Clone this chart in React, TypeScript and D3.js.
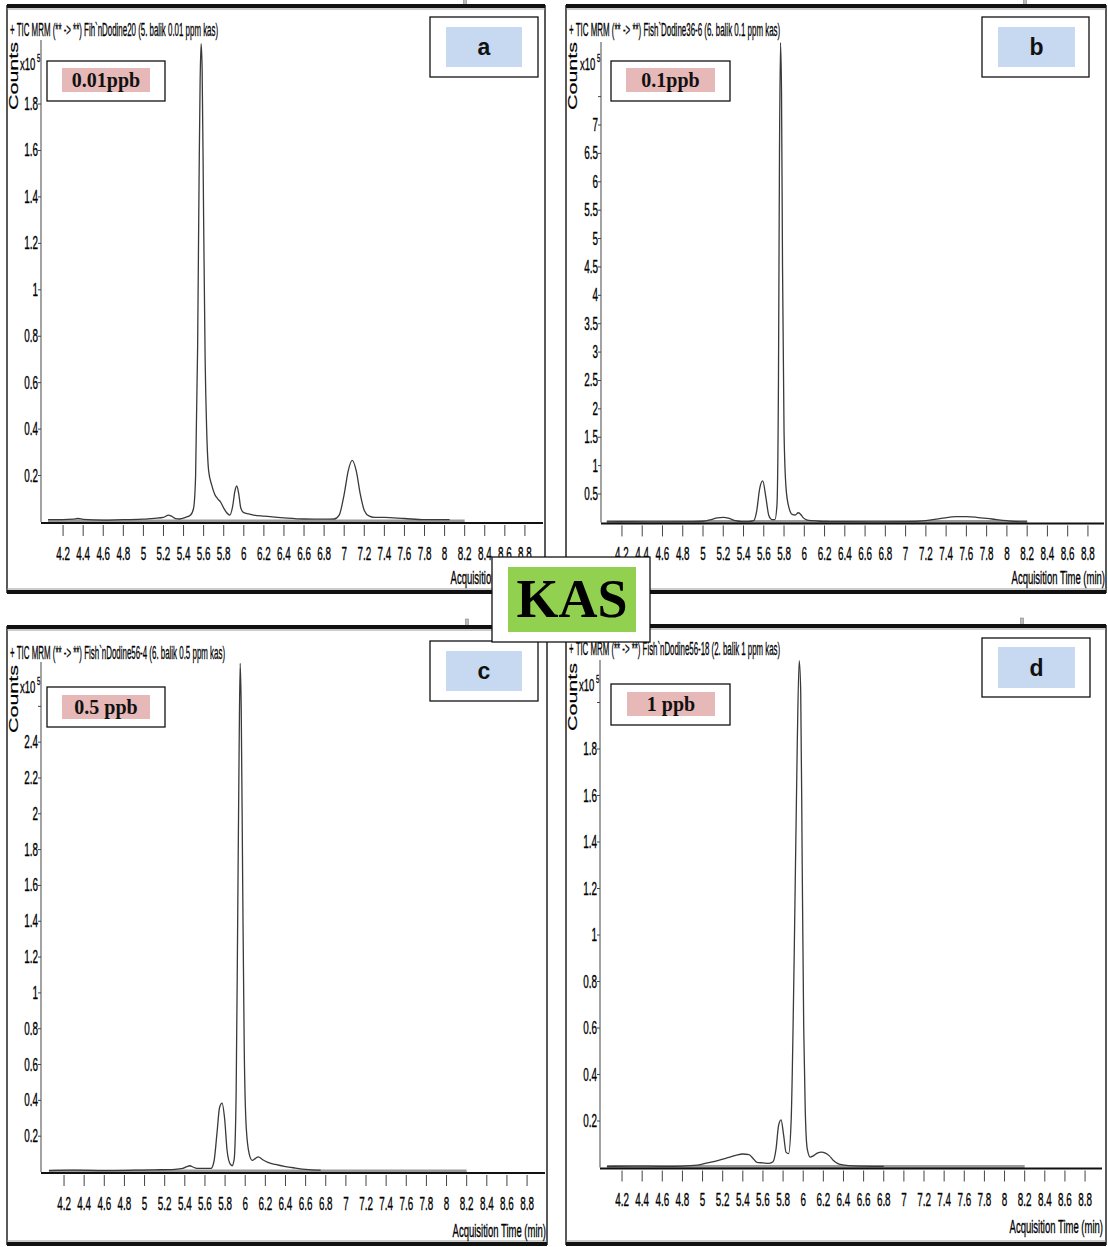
import React, { useLayoutEffect, useRef, useState } from "react";
import * as d3 from "d3";

// ---------- DATA ----------
const xTickValues = [4.2, 4.4, 4.6, 4.8, 5, 5.2, 5.4, 5.6, 5.8, 6, 6.2, 6.4, 6.6, 6.8, 7, 7.2, 7.4, 7.6, 7.8, 8, 8.2, 8.4, 8.6, 8.8];
const xTickLabels = ["4.2", "4.4", "4.6", "4.8", "5", "5.2", "5.4", "5.6", "5.8", "6", "6.2", "6.4", "6.6", "6.8", "7", "7.2", "7.4", "7.6", "7.8", "8", "8.2", "8.4", "8.6", "8.8"];

const yTicksA = [0.2, 0.4, 0.6, 0.8, 1, 1.2, 1.4, 1.6, 1.8];
const yLabelsA = ["0.2", "0.4", "0.6", "0.8", "1", "1.2", "1.4", "1.6", "1.8"];
const yTicksB = [0.5, 1, 1.5, 2, 2.5, 3, 3.5, 4, 4.5, 5, 5.5, 6, 6.5, 7, 7.5];
const yLabelsB = ["0.5", "1", "1.5", "2", "2.5", "3", "3.5", "4", "4.5", "5", "5.5", "6", "6.5", "7", ""];
const yTicksC = [0.2, 0.4, 0.6, 0.8, 1, 1.2, 1.4, 1.6, 1.8, 2, 2.2, 2.4, 2.6];
const yLabelsC = ["0.2", "0.4", "0.6", "0.8", "1", "1.2", "1.4", "1.6", "1.8", "2", "2.2", "2.4", ""];
const yTicksD = [0.2, 0.4, 0.6, 0.8, 1, 1.2, 1.4, 1.6, 1.8, 2];
const yLabelsD = ["0.2", "0.4", "0.6", "0.8", "1", "1.2", "1.4", "1.6", "1.8", ""];

// acquisition time (min) and counts (x10^5)
const timesA = [4.05, 4.2, 4.3, 4.35, 4.4, 4.6, 4.8, 5.0, 5.1, 5.2, 5.25, 5.28, 5.32, 5.36, 5.42, 5.47, 5.5, 5.52, 5.54, 5.555, 5.565, 5.575, 5.585, 5.6, 5.615, 5.63, 5.65, 5.68, 5.71, 5.74, 5.77, 5.8, 5.83, 5.86, 5.89, 5.91, 5.93, 5.95, 5.97, 6.0, 6.05, 6.1, 6.2, 6.4, 6.6, 6.8, 6.9, 6.95, 7.0, 7.04, 7.08, 7.12, 7.16, 7.2, 7.25, 7.3, 7.4, 7.6, 7.8, 8.0, 8.05];
const countsA = [0.01, 0.01, 0.012, 0.015, 0.011, 0.008, 0.01, 0.012, 0.016, 0.02, 0.03, 0.025, 0.015, 0.013, 0.02, 0.03, 0.06, 0.2, 0.75, 1.5, 1.9, 2.06, 1.95, 1.3, 0.7, 0.4, 0.22, 0.16, 0.12, 0.1, 0.085, 0.06, 0.04, 0.03, 0.07, 0.13, 0.155, 0.12, 0.06, 0.04, 0.035, 0.03, 0.025, 0.018, 0.013, 0.012, 0.013, 0.03, 0.12, 0.22, 0.265, 0.22, 0.12, 0.05, 0.025, 0.02, 0.02, 0.015, 0.01, 0.01, 0.01];

const timesB = [4.05, 4.3, 4.6, 4.9, 5.0, 5.08, 5.14, 5.2, 5.26, 5.32, 5.38, 5.45, 5.5, 5.53, 5.56, 5.59, 5.62, 5.65, 5.68, 5.71, 5.73, 5.745, 5.755, 5.765, 5.775, 5.785, 5.8, 5.82, 5.85, 5.88, 5.91, 5.94, 5.96, 5.99, 6.03, 6.08, 6.15, 6.25, 6.4, 6.7, 7.0, 7.2, 7.35, 7.5, 7.6, 7.7, 7.85, 8.0, 8.1, 8.2];
const countsB = [0.01, 0.012, 0.01, 0.012, 0.02, 0.05, 0.08, 0.09, 0.07, 0.03, 0.015, 0.015, 0.03, 0.2, 0.6, 0.73, 0.45, 0.12, 0.05, 0.05, 0.3, 2.5, 6.5, 8.45, 7.6, 4.5, 1.6, 0.6, 0.25, 0.14, 0.13, 0.17, 0.15, 0.08, 0.04, 0.03, 0.02, 0.015, 0.012, 0.01, 0.012, 0.03, 0.07, 0.1, 0.1, 0.09, 0.06, 0.03, 0.015, 0.01];

const timesC = [4.05, 4.3, 4.6, 4.9, 5.1, 5.3, 5.38, 5.42, 5.45, 5.48, 5.52, 5.6, 5.66, 5.69, 5.72, 5.745, 5.77, 5.795, 5.82, 5.85, 5.87, 5.89, 5.91, 5.925, 5.94, 5.95, 5.96, 5.975, 5.99, 6.01, 6.04, 6.07, 6.1, 6.13, 6.17, 6.22, 6.3, 6.4, 6.5, 6.6, 6.75];
const countsC = [0.008, 0.01, 0.008, 0.01, 0.012, 0.015, 0.02, 0.03, 0.035, 0.028, 0.02, 0.02, 0.02, 0.06, 0.22, 0.36, 0.385, 0.3, 0.12, 0.045, 0.035, 0.07, 0.45, 1.4, 2.4, 2.84, 2.6, 1.6, 0.7, 0.25, 0.1, 0.065, 0.075, 0.085, 0.07, 0.055, 0.042, 0.03, 0.022, 0.015, 0.01];

const timesD = [4.05, 4.3, 4.6, 4.8, 4.95, 5.05, 5.15, 5.25, 5.33, 5.4, 5.46, 5.5, 5.54, 5.6, 5.66, 5.7, 5.73, 5.755, 5.78, 5.805, 5.83, 5.855, 5.88, 5.91, 5.94, 5.96, 5.975, 5.99, 6.005, 6.02, 6.04, 6.07, 6.1, 6.14, 6.18, 6.22, 6.26, 6.3, 6.34, 6.38, 6.45, 6.6, 6.8];
const countsD = [0.005, 0.006, 0.005, 0.006, 0.01, 0.02, 0.03, 0.042, 0.052, 0.058, 0.055, 0.04, 0.022, 0.02, 0.018, 0.025, 0.08, 0.18, 0.205, 0.14, 0.065, 0.06, 0.2, 0.9, 1.8, 2.18, 2.05, 1.3, 0.6, 0.25, 0.08, 0.045, 0.05, 0.062, 0.066, 0.062, 0.05, 0.03, 0.018, 0.012, 0.008, 0.006, 0.005];

const headers = [
  "+ TIC MRM (** -> **) Fih`nDodine20 (5. balik 0.01 ppm kas)",
  "+ TIC MRM (** -> **) Fish`Dodine36-6 (6. balik 0.1 ppm kas)",
  "+ TIC MRM (** -> **) Fish`nDodine56-4 (6. balik 0.5 ppm kas)",
  "+ TIC MRM (** -> **) Fish`nDodine56-18 (2. balik 1 ppm kas)",
];
const concLabels = ["0.01ppb", "0.1ppb", "0.5 ppb", "1 ppb"];
const panelLetters = ["a", "b", "c", "d"];
const xAxisTitle = "Acquisition Time (min)";
const yAxisTitle = "Counts";
const centerLabel = "KAS";

// ---------- LAYOUT ----------
const NARROW = "'Liberation Sans', Arial, sans-serif";

const layouts = [
  { frame: [7, 5, 545, 593], axisX: 41, axisRight: 543, axisTop: 40, xr: [43, 545], y0: 522, k: 232.2, hx: 10, hy: 36, hl: 208, conc: [47, 61, 118, 40], concF: [62, 68, 88, 24], let: [430, 17, 108, 60], letF: [446, 27, 76, 40], xlY: 584, mark: 465, ylY: 70 },
  { frame: [566, 5, 1106, 593], axisX: 601, axisRight: 1104, axisTop: 42, xr: [601.7, 1108.2], y0: 522.4, k: 56.77, hx: 569, hy: 36, hl: 211, conc: [611, 61, 119, 40], concF: [626, 68, 89, 24], let: [982, 17, 107, 60], letF: [998, 27, 77, 40], xlY: 584, mark: 1025, ylY: 70 },
  { frame: [7, 626, 547, 1245], axisX: 41, axisRight: 545, axisTop: 662, xr: [43.9, 547.2], y0: 1172, k: 179.1, hx: 10, hy: 659, hl: 215, conc: [47, 687, 118, 40], concF: [62, 695, 88, 24], let: [430, 641, 108, 60], letF: [446, 651, 76, 40], xlY: 1237, mark: 467, ylY: 693 },
  { frame: [566, 625, 1106, 1245], axisX: 600, axisRight: 1102, axisTop: 660, xr: [601.9, 1105.2], y0: 1167.5, k: 232.5, hx: 569, hy: 655, hl: 211, conc: [611, 684, 119, 41], concF: [627, 692, 88, 24], let: [982, 638, 108, 59], letF: [998, 647, 77, 41], xlY: 1233, mark: 1022, ylY: 691 },
];

const seriesTimes = [timesA, timesB, timesC, timesD];
const seriesCounts = [countsA, countsB, countsC, countsD];
const yTickSets = [yTicksA, yTicksB, yTicksC, yTicksD];
const yLabelSets = [yLabelsA, yLabelsB, yLabelsC, yLabelsD];

function Narrow({ x, y, sx = 0.56, size = 17, anchor = "middle", children, fill = "#000" }: any) {
  return (
    <text transform={`translate(${x},${y}) scale(${sx},1)`} textAnchor={anchor} fontFamily={NARROW} fontSize={size} fill={fill} stroke={fill} strokeWidth={0.35}>
      {children}
    </text>
  );
}

// text squeezed horizontally to a given length (measured, then scaled)
function FitText({ x, y, width, size, rotate = 0, anchor = "start", children, stroke = 0.3 }: any) {
  const ref = useRef<SVGTextElement>(null);
  const [s, setS] = useState(0.45);
  useLayoutEffect(() => {
    if (ref.current) {
      const w = ref.current.getComputedTextLength();
      if (w > 0) setS(width / w);
    }
  }, [width, children]);
  return (
    <text
      ref={ref}
      transform={`translate(${x},${y}) rotate(${rotate}) scale(${s},1)`}
      textAnchor={anchor}
      fontFamily={NARROW}
      fontSize={size}
      fill="#000"
      stroke="#000"
      strokeWidth={stroke}
    >
      {children}
    </text>
  );
}

function Panel({ i }: { i: number }) {
  const L = layouts[i];
  const [fx1, fy1, fx2, fy2] = L.frame;
  const x = d3.scaleLinear().domain([4, 9]).range(L.xr);
  const y = d3.scaleLinear().domain([0, 1]).range([L.y0, L.y0 - L.k]);
  const pts: [number, number][] = seriesTimes[i].map((t, j) => [t, seriesCounts[i][j]]);
  const line = d3.line<[number, number]>().x((d) => x(d[0])).y((d) => y(d[1])).curve(d3.curveMonotoneX);
  const tEnd = seriesTimes[i][seriesTimes[i].length - 1];
  return (
    <g>
      {/* small mark above frame */}
      <rect x={L.mark - 1.5} y={fy1 - 7} width={3} height={7} fill="#bbb" stroke="#888" strokeWidth={0.6} />
      {/* frame */}
      <line x1={fx1} y1={fy1} x2={fx1} y2={fy2} stroke="#222" strokeWidth={1.5} />
      <line x1={fx2} y1={fy1} x2={fx2} y2={fy2} stroke="#222" strokeWidth={1.5} />
      <line x1={fx1} y1={fy1 + 1} x2={fx2} y2={fy1 + 1} stroke="#111" strokeWidth={4} />
      <line x1={fx1} y1={fy1 + 4} x2={fx2} y2={fy1 + 4} stroke="#999" strokeWidth={1} />
      <line x1={fx1} y1={fy2 - 1} x2={fx2} y2={fy2 - 1} stroke="#111" strokeWidth={4} />
      <line x1={fx1} y1={fy2 - 4} x2={fx2} y2={fy2 - 4} stroke="#999" strokeWidth={1} />

      {/* header */}
      <FitText x={L.hx} y={L.hy} width={L.hl} size={18}>
        {headers[i]}
      </FitText>

      {/* y title */}
      <FitText x={fx1 + 11} y={L.ylY + 40} width={68} size={13} rotate={-90} stroke={0.2}>
        {yAxisTitle}
      </FitText>
      <Narrow x={L.axisX - 21} y={L.ylY} anchor="start" size={17}>x10</Narrow>
      <Narrow x={L.axisX - 4} y={L.ylY - 8} anchor="start" size={11}>5</Narrow>

      {/* y axis */}
      <line x1={L.axisX} y1={L.axisTop} x2={L.axisX} y2={L.y0} stroke="#666" strokeWidth={1.2} />
      {yTickSets[i].map((v, j) => (
        <g key={j}>
          <line x1={L.axisX - 3} x2={L.axisX} y1={y(v)} y2={y(v)} stroke="#444" strokeWidth={1} />
          {yLabelSets[i][j] && (
            <Narrow x={L.axisX - 3} y={y(v) + 6} anchor="end" size={18} sx={0.55}>
              {yLabelSets[i][j]}
            </Narrow>
          )}
        </g>
      ))}

      {/* baseline band & x axis */}
      <line x1={x(4.05)} x2={x(Math.max(tEnd, 8.2))} y1={L.y0 - 1} y2={L.y0 - 1} stroke="#9a9a9a" strokeWidth={3} />
      <line x1={L.axisX} x2={L.axisRight} y1={L.y0 + 1} y2={L.y0 + 1} stroke="#111" strokeWidth={2} />
      {xTickValues.map((v, j) => (
        <g key={j}>
          <line x1={x(v)} x2={x(v)} y1={L.y0 + 3} y2={L.y0 + 14} stroke="#444" strokeWidth={1} />
          <Narrow x={x(v)} y={L.y0 + 38} size={19} sx={0.52}>
            {xTickLabels[j]}
          </Narrow>
        </g>
      ))}
      <Narrow x={L.axisRight + 1} y={L.xlY} anchor="end" sx={0.5} size={19}>
        {xAxisTitle}
      </Narrow>

      {/* trace */}
      <path d={line(pts) || ""} fill="none" stroke="#3a3a3a" strokeWidth={1.3} strokeLinejoin="round" />

      {/* concentration label */}
      <rect x={L.conc[0]} y={L.conc[1]} width={L.conc[2]} height={L.conc[3]} fill="#fff" stroke="#111" strokeWidth={1.3} />
      <rect x={L.concF[0]} y={L.concF[1]} width={L.concF[2]} height={L.concF[3]} fill="#e6b8b7" />
      <text x={L.concF[0] + L.concF[2] / 2} y={L.concF[1] + L.concF[3] / 2 + 7} textAnchor="middle" fontFamily="'Liberation Serif', 'Times New Roman', serif" fontWeight="bold" fontSize={20} fill="#111">
        {concLabels[i]}
      </text>

      {/* panel letter */}
      <rect x={L.let[0]} y={L.let[1]} width={L.let[2]} height={L.let[3]} fill="#fff" stroke="#111" strokeWidth={1.3} />
      <rect x={L.letF[0]} y={L.letF[1]} width={L.letF[2]} height={L.letF[3]} fill="#c6d9f0" />
      <text x={L.letF[0] + L.letF[2] / 2} y={L.letF[1] + L.letF[3] / 2 + 8} textAnchor="middle" fontFamily="'Liberation Sans', Arial, sans-serif" fontWeight="bold" fontSize={23} fill="#111">
        {panelLetters[i]}
      </text>
    </g>
  );
}

export default function App() {
  return (
    <svg width={1108} height={1247} style={{ position: "absolute", left: 0, top: 0, display: "block", background: "#fff" }}>
      <rect x={0} y={0} width={1108} height={1247} fill="#fff" />
      {[0, 1, 2, 3].map((i) => (
        <Panel key={i} i={i} />
      ))}
      {/* center KAS label */}
      <rect x={492} y={557} width={158} height={85} fill="#fff" stroke="#111" strokeWidth={1.3} />
      <rect x={508} y={567} width={128} height={65} fill="#92d050" />
      <text x={572} y={617} textAnchor="middle" fontFamily="'Liberation Serif', 'Times New Roman', serif" fontWeight="bold" fontSize={54} fill="#000">
        {centerLabel}
      </text>
    </svg>
  );
}
